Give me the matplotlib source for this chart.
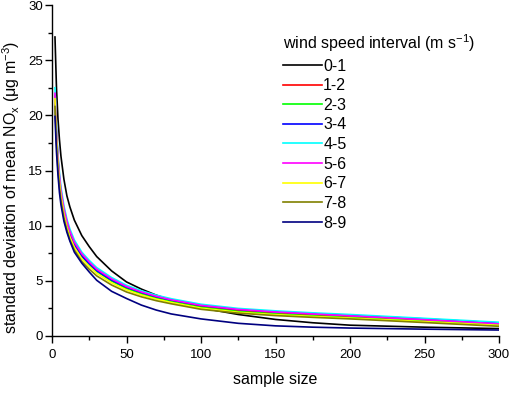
import matplotlib
matplotlib.use("Agg")
import matplotlib.pyplot as plt
from matplotlib.ticker import MultipleLocator

plt.rcParams['font.family'] = ['Liberation Sans', 'DejaVu Sans']
plt.rcParams['mathtext.fontset'] = 'custom'
plt.rcParams['mathtext.rm'] = 'Liberation Sans'
plt.rcParams['mathtext.it'] = 'Liberation Sans'
plt.rcParams['mathtext.default'] = 'regular'

n = [2, 3, 4, 5, 6, 8, 10, 12, 15, 20, 25, 30, 40, 50, 60, 70, 80, 100, 125, 150, 175, 200, 250, 300]

ws_0_1 = [27.1, 22.5, 19.7, 17.8, 16.3, 14.2, 12.7, 11.7, 10.5, 9.1, 8.1, 7.2, 5.9, 4.9, 4.25, 3.7, 3.25, 2.55, 1.95, 1.5, 1.2, 0.98, 0.8, 0.67]
ws_1_2 = [21.8, 18.3, 16.0, 14.35, 13.1, 11.45, 10.3, 9.4, 8.4, 7.35, 6.6, 5.95, 5.07, 4.38, 3.9, 3.51, 3.2, 2.68, 2.3, 2.07, 1.88, 1.72, 1.38, 1.0]
ws_2_3 = [21.5, 18.05, 15.75, 14.1, 12.85, 11.25, 10.1, 9.2, 8.25, 7.2, 6.48, 5.85, 4.97, 4.3, 3.82, 3.44, 3.13, 2.6, 2.22, 2.0, 1.83, 1.67, 1.35, 1.0]
ws_3_4 = [21.0, 17.8, 15.6, 14.0, 12.8, 11.2, 10.1, 9.25, 8.3, 7.25, 6.55, 5.92, 5.07, 4.42, 3.95, 3.56, 3.26, 2.77, 2.41, 2.2, 2.03, 1.87, 1.55, 1.18]
ws_4_5 = [22.5, 18.9, 16.5, 14.8, 13.5, 11.8, 10.6, 9.7, 8.7, 7.6, 6.85, 6.2, 5.3, 4.6, 4.1, 3.7, 3.38, 2.88, 2.5, 2.28, 2.1, 1.95, 1.6, 1.25]
ws_5_6 = [22.0, 18.5, 16.2, 14.5, 13.2, 11.55, 10.4, 9.5, 8.5, 7.45, 6.7, 6.05, 5.17, 4.48, 3.99, 3.6, 3.28, 2.78, 2.41, 2.18, 2.0, 1.83, 1.48, 1.1]
ws_6_7 = [21.5, 17.95, 15.6, 13.95, 12.7, 11.05, 9.9, 9.0, 8.05, 7.0, 6.3, 5.68, 4.82, 4.17, 3.71, 3.34, 3.04, 2.52, 2.15, 1.93, 1.77, 1.62, 1.3, 0.96]
ws_7_8 = [20.8, 17.4, 15.1, 13.5, 12.3, 10.7, 9.6, 8.7, 7.8, 6.75, 6.05, 5.45, 4.62, 3.99, 3.55, 3.2, 2.92, 2.42, 2.07, 1.85, 1.69, 1.55, 1.22, 0.88]
ws_8_9 = [19.9, 16.7, 14.6, 13.0, 11.9, 10.4, 9.4, 8.6, 7.6, 6.6, 5.8, 5.05, 4.05, 3.4, 2.8, 2.35, 2.0, 1.55, 1.15, 0.92, 0.8, 0.72, 0.62, 0.54]

labels = ['0-1', '1-2', '2-3', '3-4', '4-5', '5-6', '6-7', '7-8', '8-9']
series = [ws_0_1, ws_1_2, ws_2_3, ws_3_4, ws_4_5, ws_5_6, ws_6_7, ws_7_8, ws_8_9]
colors = ['#000000', '#ff0000', '#00ff00', '#0000ff', '#00ffff', '#ff00ff', '#ffff00', '#808000', '#000080']

fig = plt.figure(figsize=(5.32, 3.96), dpi=100)
ax = fig.add_axes([52/532, 1-336/396, (499-52)/532, (336-5)/396])

for y, c, lab in zip(series, colors, labels):
    ax.plot(n, y, color=c, lw=1.2, label=lab)

ax.set_xlim(0, 300)
ax.set_ylim(0, 30)
ax.xaxis.set_major_locator(MultipleLocator(50))
ax.xaxis.set_minor_locator(MultipleLocator(25))
ax.yaxis.set_major_locator(MultipleLocator(5))
ax.yaxis.set_minor_locator(MultipleLocator(2.5))
ax.spines['top'].set_visible(False)
ax.spines['right'].set_visible(False)
for s in ['left', 'bottom']:
    ax.spines[s].set_linewidth(1.0)
ax.tick_params(which='major', direction='out', length=5, width=1.0, labelsize=9.5)
ax.tick_params(axis='x', which='major', pad=4)
ax.tick_params(axis='y', which='major', pad=1.5)
ax.tick_params(which='minor', direction='out', length=3, width=1.0)

ax.set_xlabel('sample size', fontsize=11.5, labelpad=8)
ax.set_ylabel('standard deviation of mean NO$_\\mathrm{x}$ (μg m$^{-3}$)', fontsize=11.5)
ax.yaxis.set_label_coords(-0.068, 0.45)

leg = ax.legend(title='wind speed interval (m s$^{-1}$)', loc='upper left',
                bbox_to_anchor=(280/532, 1-29/396), bbox_transform=fig.transFigure,
                frameon=False, fontsize=11.5, title_fontsize=11.5, handlelength=2.4,
                handletextpad=0.1, labelspacing=0.29, borderpad=0.2, borderaxespad=0)
leg._legend_box.align = 'left'

fig.savefig('out.png', dpi=100)
